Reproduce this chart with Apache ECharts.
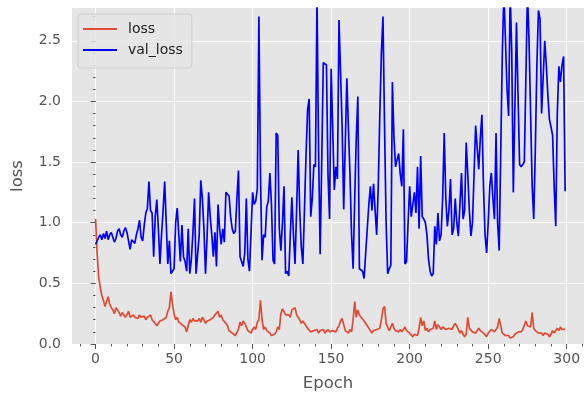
<!DOCTYPE html>
<html>
<head>
<meta charset="utf-8">
<script src="https://cdn.jsdelivr.net/npm/echarts@6/dist/echarts.min.js"></script>
<style>
  html, body { margin: 0; padding: 0; background: #fff; }
  #chart { width: 584px; height: 398px; }
</style>
</head>
<body>
<div id="chart"></div>
<script>
// training history, one value per epoch (0..299)
const loss = [
  1.03, 0.75, 0.55, 0.47, 0.40, 0.36, 0.31, 0.35, 0.39, 0.33,
  0.30, 0.28, 0.25, 0.30, 0.28, 0.26, 0.23, 0.26, 0.24, 0.22,
  0.24, 0.27, 0.22, 0.23, 0.24, 0.22, 0.23, 0.21, 0.24, 0.22,
  0.23, 0.23, 0.20, 0.22, 0.21, 0.24, 0.20, 0.19, 0.17, 0.15,
  0.16, 0.19, 0.18, 0.20, 0.19, 0.22, 0.27, 0.30, 0.43, 0.33,
  0.25, 0.20, 0.22, 0.18, 0.17, 0.16, 0.17, 0.14, 0.10, 0.15,
  0.20, 0.18, 0.21, 0.19, 0.20, 0.19, 0.21, 0.18, 0.22, 0.20,
  0.17, 0.19, 0.18, 0.20, 0.19, 0.22, 0.24, 0.23, 0.27, 0.22,
  0.24, 0.20, 0.19, 0.17, 0.15, 0.11, 0.10, 0.09, 0.08, 0.07,
  0.06, 0.12, 0.18, 0.15, 0.19, 0.17, 0.14, 0.11, 0.10, 0.09,
  0.12, 0.14, 0.12, 0.18, 0.20, 0.36, 0.20, 0.12, 0.14, 0.11,
  0.10, 0.09, 0.07, 0.06, 0.08, 0.10, 0.14, 0.12, 0.25, 0.29,
  0.28, 0.24, 0.23, 0.24, 0.22, 0.28, 0.29, 0.30, 0.24, 0.22,
  0.20, 0.17, 0.19, 0.18, 0.15, 0.13, 0.12, 0.10, 0.09, 0.11,
  0.10, 0.12, 0.09, 0.11, 0.10, 0.12, 0.09, 0.10, 0.12, 0.10,
  0.09, 0.11, 0.12, 0.10, 0.13, 0.15, 0.19, 0.21, 0.20, 0.11,
  0.10, 0.09, 0.12, 0.10, 0.20, 0.35, 0.22, 0.28, 0.24, 0.22,
  0.23, 0.19, 0.18, 0.15, 0.13, 0.11, 0.09, 0.11, 0.10, 0.12,
  0.11, 0.13, 0.20, 0.29, 0.31, 0.17, 0.14, 0.11, 0.12, 0.17,
  0.13, 0.11, 0.12, 0.10, 0.12, 0.10, 0.11, 0.14, 0.11, 0.10,
  0.09, 0.08, 0.06, 0.08, 0.09, 0.07, 0.13, 0.22, 0.15, 0.19,
  0.11, 0.13, 0.10, 0.12, 0.11, 0.13, 0.19, 0.12, 0.16, 0.14,
  0.12, 0.14, 0.13, 0.12, 0.11, 0.13, 0.14, 0.12, 0.15, 0.17,
  0.16, 0.12, 0.09, 0.11, 0.08, 0.06, 0.08, 0.22, 0.13, 0.14,
  0.10, 0.11, 0.09, 0.10, 0.13, 0.11, 0.12, 0.09, 0.08, 0.06,
  0.09, 0.10, 0.12, 0.13, 0.10, 0.09, 0.14, 0.21, 0.15, 0.09,
  0.08, 0.07, 0.06, 0.07, 0.05, 0.06, 0.06, 0.08, 0.09, 0.10,
  0.11, 0.10, 0.12, 0.13, 0.19, 0.15, 0.14, 0.14, 0.26, 0.13,
  0.11, 0.10, 0.09, 0.10, 0.09, 0.07, 0.09, 0.10, 0.08, 0.06,
  0.08, 0.11, 0.09, 0.10, 0.13, 0.11, 0.14, 0.12, 0.13, 0.12
]
const valLoss = [
  0.82, 0.85, 0.88, 0.90, 0.86, 0.91, 0.87, 0.93, 0.86, 0.90,
  0.92, 0.88, 0.84, 0.87, 0.93, 0.95, 0.90, 0.88, 0.93, 0.96,
  0.92, 0.85, 0.78, 0.86, 0.87, 0.83, 0.90, 0.95, 1.02, 0.88,
  0.85, 0.98, 1.08, 1.12, 1.34, 1.10, 1.08, 0.72, 1.05, 1.19,
  0.95, 0.66, 0.90, 1.10, 1.34, 1.00, 0.66, 0.85, 0.58, 0.60,
  0.62, 1.00, 1.12, 0.90, 0.68, 0.98, 0.72, 0.68, 0.60, 0.95,
  0.58, 0.70, 0.92, 1.20, 0.58, 0.58, 0.90, 1.35, 1.20, 0.95,
  0.58, 0.88, 1.25, 1.05, 0.90, 0.72, 0.92, 0.64, 1.15, 0.95,
  0.82, 0.95, 0.84, 1.25, 1.24, 1.22, 1.05, 0.95, 0.91, 0.93,
  1.20, 1.43, 0.72, 0.68, 0.64, 0.75, 1.20, 0.70, 0.60, 0.92,
  1.25, 1.15, 1.18, 1.28, 2.70, 1.40, 0.69, 0.90, 0.88, 1.13,
  1.18, 1.41, 1.15, 0.69, 0.66, 1.74, 1.72, 0.95, 0.77, 1.00,
  1.30, 0.58, 0.60, 0.56, 0.90, 1.21, 0.90, 0.66, 1.10, 1.60,
  1.10, 0.80, 0.66, 1.10, 1.55, 1.93, 2.02, 1.05, 1.20, 1.48,
  1.46, 2.85, 1.60, 0.74, 1.50, 2.32, 2.32, 2.30, 1.40, 1.03,
  2.27, 2.26, 1.27, 1.46, 1.36, 2.67, 2.66, 1.80, 1.11, 1.65,
  2.19, 1.78, 1.40, 0.90, 0.62, 1.20, 1.70, 2.04, 0.62, 0.62,
  0.60, 0.54, 0.75, 0.95, 1.15, 1.30, 1.10, 1.32, 1.10, 0.90,
  1.30, 1.90, 2.40, 2.70, 1.80, 1.00, 0.58, 0.62, 0.65, 2.16,
  1.70, 1.46, 1.52, 1.57, 1.40, 1.30, 1.77, 0.66, 0.68, 1.00,
  1.30, 1.05, 1.15, 1.25, 1.08, 1.46, 0.95, 1.55, 1.05, 1.03,
  1.00, 0.90, 0.70, 0.60, 0.56, 0.58, 0.97, 0.82, 1.08, 0.85,
  0.90, 1.20, 1.74, 1.20, 0.97, 1.10, 1.36, 0.90, 0.95, 1.20,
  1.00, 0.89, 1.15, 1.41, 1.03, 1.10, 1.66, 1.40, 1.10, 0.89,
  1.00, 1.40, 1.80, 1.81, 1.44, 1.70, 1.89, 1.30, 0.90, 0.75,
  1.00, 1.30, 1.41, 1.20, 1.03, 1.74, 1.00, 0.77, 1.60, 2.40,
  2.90, 2.50, 2.10, 1.88, 2.90, 2.40, 1.25, 1.95, 2.65, 2.05,
  1.48, 1.46, 1.47, 1.50, 2.20, 2.90, 2.50, 1.90, 1.30, 1.03,
  1.60, 2.30, 2.75, 2.68, 1.90, 2.20, 2.50, 2.30, 2.05, 1.85,
  1.79, 1.72, 1.30, 0.97, 1.90, 2.29, 2.16, 2.30, 2.37, 1.26
]
const xTicks = [0, 50, 100, 150, 200, 250, 300]
const yTicks = [0, 0.5, 1.0, 1.5, 2.0, 2.5]

// minor ticks like matplotlib: every 10 epochs / every 0.1
const xMinor = []
for (let v = -10; v <= 310; v += 10) xMinor.push(v)
const yMinor = []
for (let k = 0; k <= 27; k++) yMinor.push(+(k / 10).toFixed(1))

const tickColor = '#555555'
const font = 'DejaVu Sans'

const chart = echarts.init(document.getElementById('chart'), null, { renderer: 'canvas' })
chart.setOption({
  animation: false,
  backgroundColor: '#ffffff',
  grid: {
    left: 72, top: 8, right: 0, bottom: 54,
    show: true, backgroundColor: '#E5E5E5', borderWidth: 0,
  },
  legend: {
    left: 78, top: 14,
    orient: 'vertical',
    icon: 'rect',
    itemWidth: 34, itemHeight: 2,
    itemGap: 7,
    padding: [8, 9, 11, 5],
    backgroundColor: 'rgba(229,229,229,0.85)',
    borderColor: '#CFCFCF', borderWidth: 1, borderRadius: 3,
    textStyle: { fontFamily: font, fontSize: 14, color: '#222', padding: [0, 0, 0, 6] },
    data: ['loss', 'val_loss'],
  },
  xAxis: [
    {
      type: 'value', min: -15, max: 311,
      name: 'Epoch', nameLocation: 'middle', nameGap: 31,
      nameTextStyle: { fontFamily: font, fontSize: 16.5, color: tickColor },
      axisLine: { show: false },
      axisTick: { show: true, customValues: xTicks, length: 5, lineStyle: { color: tickColor } },
      axisLabel: { customValues: xTicks, margin: 8, fontFamily: font, fontSize: 14, color: tickColor },
      splitLine: { show: true, lineStyle: { color: '#ffffff', width: 1 } },
    },
    {
      type: 'value', min: -15, max: 311, position: 'bottom',
      axisLine: { show: false },
      axisTick: { show: true, customValues: xMinor, length: 2.5, lineStyle: { color: tickColor } },
      axisLabel: { show: false },
      splitLine: { show: false },
    },
  ],
  yAxis: [
    {
      type: 'value', min: 0, max: 2.77,
      name: 'loss', nameLocation: 'middle', nameGap: 46, nameRotate: 90,
      nameTextStyle: { fontFamily: font, fontSize: 16.5, color: tickColor },
      axisLine: { show: false },
      axisTick: { show: true, customValues: yTicks, length: 5, lineStyle: { color: tickColor } },
      axisLabel: {
        customValues: yTicks, margin: 11, fontFamily: font, fontSize: 14, color: tickColor,
        formatter: v => v.toFixed(1),
      },
      splitLine: { show: true, lineStyle: { color: '#ffffff', width: 1 } },
    },
    {
      type: 'value', min: 0, max: 2.77, position: 'left',
      axisLine: { show: false },
      axisTick: { show: true, customValues: yMinor, length: 2.5, lineStyle: { color: tickColor } },
      axisLabel: { show: false },
      splitLine: { show: false },
    },
  ],
  series: [
    {
      name: 'loss', type: 'line',
      data: loss.map((v, i) => [i, v]),
      showSymbol: false, clip: true,
      lineStyle: { color: '#E24A33', width: 1.7 },
      itemStyle: { color: '#E24A33' },
    },
    {
      name: 'val_loss', type: 'line',
      data: valLoss.map((v, i) => [i, v]),
      showSymbol: false, clip: true,
      lineStyle: { color: '#0000FF', width: 1.7 },
      itemStyle: { color: '#0000FF' },
    },
  ],
})
</script>
</body>
</html>
